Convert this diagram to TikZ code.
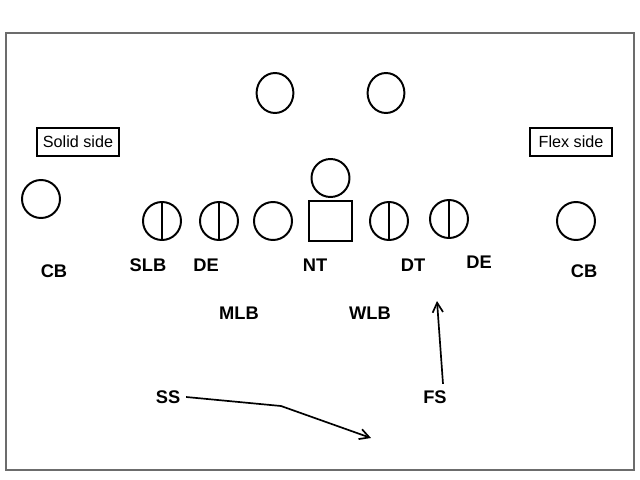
\documentclass[tikz,border=0pt]{standalone}
\usepackage{fontspec}
\setmainfont{Liberation Sans}
\usetikzlibrary{arrows.meta}
\usetikzlibrary{shapes.geometric}
\tikzset{x=0.025cm, y=-0.025cm, % One unit is one pixel of the reference
      player/.style={ % Plain defender
      circle, draw, line width=1.4pt,
      minimum size=0.95cm, inner sep=0pt},
      lineman/.style={ % Defender with a split line
      player,
      path picture={\draw[line width=1.4pt] (path picture bounding box.north) -- (path picture bounding box.south);}},
      deep/.style={ % Offset players at the top
      ellipse, draw, line width=1.4pt,
      minimum width=0.92cm, minimum height=1cm, inner sep=0pt},
      snapper/.style={rectangle, draw, line width=1.4pt,
      minimum width=1.08cm, minimum height=0.98cm, inner sep=0pt},
      poslabel/.style={font=\fontsize{13}{15}\selectfont\bfseries, inner sep=1pt},
      side/.style={draw, line width=1.4pt, font=\fontsize{11.5}{13}\selectfont,
      minimum width=2.05cm, minimum height=0.72cm, inner sep=0pt},
      route/.style={draw, -{Straight Barb[length=2.4mm, width=2.6mm]}, line width=1.2pt}}

\begin{document}
\begin{tikzpicture}
      \useasboundingbox (0,0) rectangle (640,480);
      \draw[gray!85!black, line width=1pt] (6,33) rectangle (634,470);
      % offense
      \node[deep] (b1) at (275,93) {};
      \node[deep] (b2) at (386,93) {};
      \node[player] (qb) at (330.5,178) {};
      \node[snapper] (c) at (330.5,221) {};
      \node[player] (g) at (273,221) {};
      % labels for the sides
      \node[side] (solid) at (78,142) {Solid side};
      \node[side] (flex) at (571,142) {Flex side};
      % defense
      \node[player] (cbl) at (41,199) {};
      \node[lineman] (slbp) at (162,221) {};
      \node[lineman] (delp) at (219,221) {};
      \node[lineman] (dtp) at (389,221) {};
      \node[lineman] (derp) at (449,219) {};
      \node[player] (cbr) at (576,221) {};
      \node[poslabel] (CBl) at (54,271) {CB};
      \node[poslabel] (SLB) at (148,265) {SLB};
      \node[poslabel] (DEl) at (206,265) {DE};
      \node[poslabel] (NT) at (315,265) {NT};
      \node[poslabel] (DT) at (413,265) {DT};
      \node[poslabel] (DEr) at (479,262) {DE};
      \node[poslabel] (CBr) at (584,271) {CB};
      \node[poslabel] (MLB) at (239,313) {MLB};
      \node[poslabel] (WLB) at (370,313) {WLB};
      \node[poslabel] (SS) at (168,397) {SS};
      \node[poslabel] (FS) at (435,397) {FS};
      % routes
      \coordinate (ssbend) at (281,406);
      \coordinate (ssend) at (371,438);
      \coordinate (fsend) at (437,301);
      \draw[route] ([xshift=3]SS.east) -- (ssbend) -- (ssend);
      \draw[route] ([shift={(8,-5)}]FS.north) -- (fsend);
\end{tikzpicture}
\end{document}
